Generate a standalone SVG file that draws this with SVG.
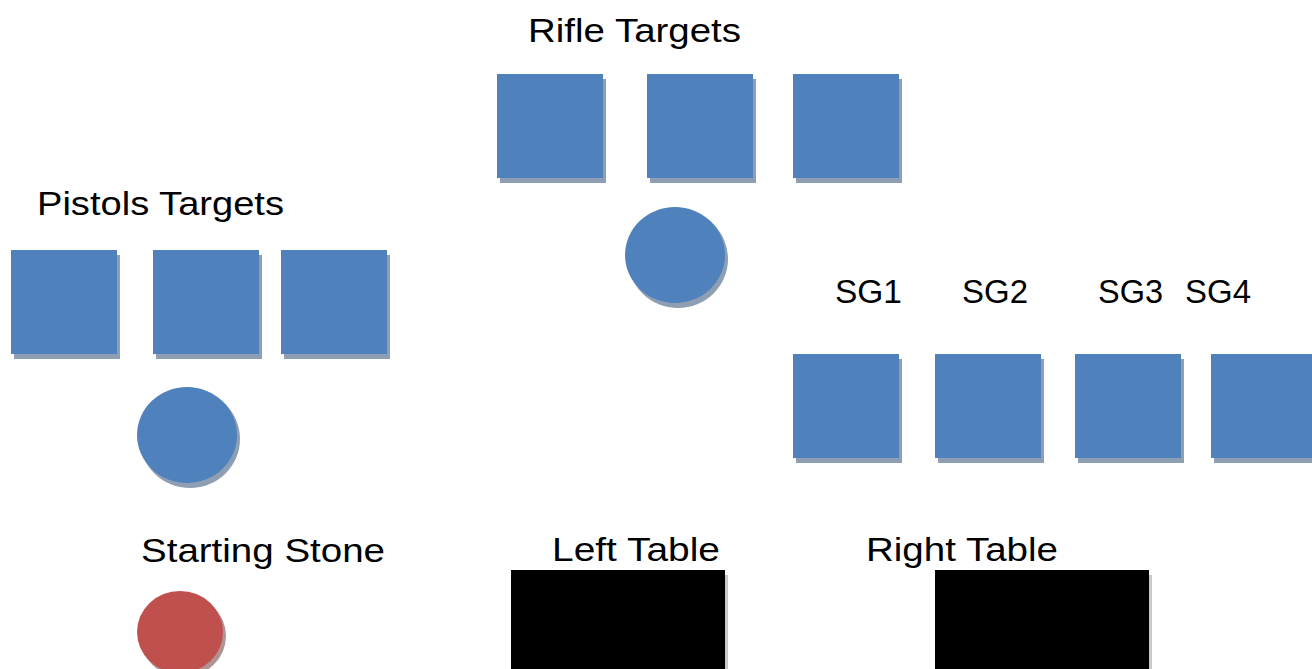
<svg xmlns="http://www.w3.org/2000/svg" width="1312" height="669" viewBox="0 0 1312 669">
<style>
.sh{fill:#8E9FB3}
.bx{fill:#4F81BD}
.t{font-family:"Liberation Sans",Arial,sans-serif;font-size:33px;fill:#000}
</style>
<rect width="1312" height="669" fill="#fff"/>
<g id="rifle-label"><text class="t" x="528" y="42" textLength="213" lengthAdjust="spacingAndGlyphs">Rifle Targets</text></g>
<g id="rifle-1"><rect class="sh" x="500" y="79" width="106" height="104"/><rect class="bx" x="497" y="74" width="106" height="104"/></g>
<g id="rifle-2"><rect class="sh" x="650" y="79" width="106" height="104"/><rect class="bx" x="647" y="74" width="106" height="104"/></g>
<g id="rifle-3"><rect class="sh" x="796" y="79" width="106" height="104"/><rect class="bx" x="793" y="74" width="106" height="104"/></g>
<g id="rifle-circle"><ellipse class="sh" cx="678" cy="259" rx="50" ry="49"/><ellipse class="bx" cx="675" cy="255" rx="50" ry="48"/></g>
<g id="pistol-label"><text class="t" x="37" y="215" textLength="247" lengthAdjust="spacingAndGlyphs">Pistols Targets</text></g>
<g id="pistol-1"><rect class="sh" x="14" y="255" width="106" height="104"/><rect class="bx" x="11" y="250" width="106" height="104"/></g>
<g id="pistol-2"><rect class="sh" x="156" y="255" width="106" height="104"/><rect class="bx" x="153" y="250" width="106" height="104"/></g>
<g id="pistol-3"><rect class="sh" x="284" y="255" width="106" height="104"/><rect class="bx" x="281" y="250" width="106" height="104"/></g>
<g id="pistol-circle"><ellipse class="sh" cx="190" cy="439" rx="50" ry="49"/><ellipse class="bx" cx="187" cy="435" rx="50" ry="48"/></g>
<g id="sg-labels">
<text class="t" x="835" y="303" textLength="67" lengthAdjust="spacingAndGlyphs">SG1</text>
<text class="t" x="962" y="303" textLength="66" lengthAdjust="spacingAndGlyphs">SG2</text>
<text class="t" x="1098" y="303" textLength="65" lengthAdjust="spacingAndGlyphs">SG3</text>
<text class="t" x="1185" y="303" textLength="66" lengthAdjust="spacingAndGlyphs">SG4</text>
</g>
<g id="sg-1"><rect class="sh" x="796" y="359" width="106" height="104"/><rect class="bx" x="793" y="354" width="106" height="104"/></g>
<g id="sg-2"><rect class="sh" x="938" y="359" width="106" height="104"/><rect class="bx" x="935" y="354" width="106" height="104"/></g>
<g id="sg-3"><rect class="sh" x="1078" y="359" width="106" height="104"/><rect class="bx" x="1075" y="354" width="106" height="104"/></g>
<g id="sg-4"><rect class="sh" x="1214" y="359" width="106" height="104"/><rect class="bx" x="1211" y="354" width="106" height="104"/></g>
<g id="stone-label"><text class="t" x="141" y="562" textLength="244" lengthAdjust="spacingAndGlyphs">Starting Stone</text></g>
<g id="starting-stone"><ellipse cx="183" cy="636" rx="43" ry="41" fill="#B09494"/><ellipse cx="180" cy="632" rx="43" ry="41" fill="#C0504D"/></g>
<g id="left-table-label"><text class="t" x="552" y="561" textLength="168" lengthAdjust="spacingAndGlyphs">Left Table</text></g>
<g id="left-table"><rect x="514" y="575" width="214" height="100" fill="#C8C8C8"/><rect x="511" y="570" width="214" height="100" fill="#000"/></g>
<g id="right-table-label"><text class="t" x="866" y="561" textLength="192" lengthAdjust="spacingAndGlyphs">Right Table</text></g>
<g id="right-table"><rect x="938" y="575" width="214" height="100" fill="#C8C8C8"/><rect x="935" y="570" width="214" height="100" fill="#000"/></g>
<g id="connectors"/>
</svg>
